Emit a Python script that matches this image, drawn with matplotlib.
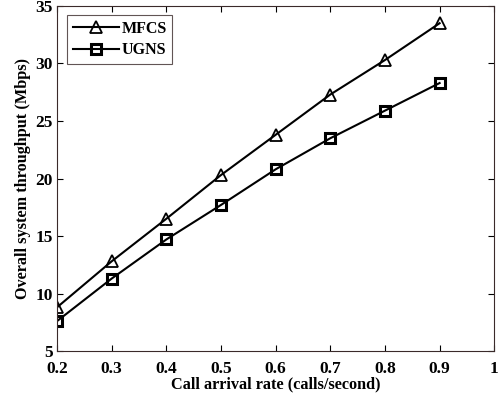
import numpy as np
import matplotlib
matplotlib.use("Agg")
import matplotlib.pyplot as plt

# Data
rate = [0.2, 0.3, 0.4, 0.5, 0.6, 0.7, 0.8, 0.9]
mfcs = [8.8, 12.8, 16.5, 20.3, 23.8, 27.3, 30.3, 33.5]
ugns = [7.6, 11.3, 14.7, 17.7, 20.8, 23.5, 25.9, 28.3]

plt.rcParams["font.family"] = ["Liberation Serif", "DejaVu Serif"]
plt.rcParams["font.weight"] = "bold"

fig = plt.figure(figsize=(4.98, 3.98), dpi=100)
ax = fig.add_axes([0.1145, 0.118, 0.878, 0.867])

ax.plot(rate, mfcs, "k-", marker="^", markersize=9, markerfacecolor="none",
        markeredgewidth=1.3, lw=1.5, label="MFCS")
ax.plot(rate, ugns, "k-", marker="s", markersize=7, markerfacecolor="none",
        markeredgewidth=2.2, lw=1.5, label="UGNS")

ax.set_xlim(0.2, 1.0)
ax.set_ylim(5, 35)
ax.set_xticks([0.2, 0.3, 0.4, 0.5, 0.6, 0.7, 0.8, 0.9, 1.0])
ax.set_xticklabels(["0.2", "0.3", "0.4", "0.5", "0.6", "0.7", "0.8", "0.9", "1"])
ax.set_yticks([5, 10, 15, 20, 25, 30, 35])
ax.tick_params(direction="in", top=True, right=True, labelsize=12.5, length=4)
ax.tick_params(axis="x", pad=7)
ax.tick_params(axis="y", pad=3)
for lab in ax.get_xticklabels() + ax.get_yticklabels():
    lab.set_fontweight("bold")
for spine in ax.spines.values():
    spine.set_linewidth(0.8)
    spine.set_color("#3a2a2a")

ax.set_xlabel("Call arrival rate (calls/second)", fontsize=11.7, fontweight="bold", labelpad=0)
ax.set_ylabel("Overall system throughput (Mbps)", fontsize=11.7, fontweight="bold", labelpad=3)

leg = ax.legend(loc="upper left", fontsize=11.5, fancybox=False, edgecolor="#3a2a2a",
                handlelength=2.9, handletextpad=0.15, borderpad=0.35, labelspacing=0.35,
                borderaxespad=0, bbox_to_anchor=(0.023, 0.973))
leg.get_frame().set_linewidth(0.8)
for t in leg.get_texts():
    t.set_fontweight("bold")

fig.savefig("out.png", dpi=100)
